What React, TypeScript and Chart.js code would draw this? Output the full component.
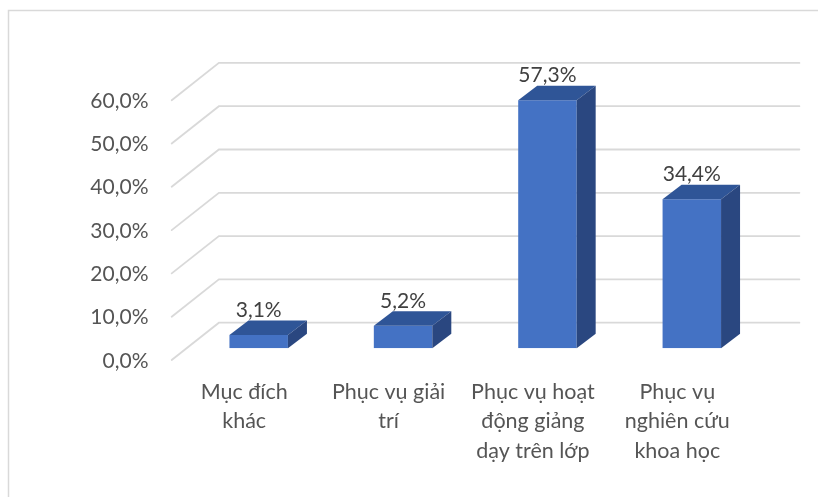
import React, { useEffect, useRef } from "react";
import { Chart, registerables } from "chart.js";

Chart.register(...registerables);

// Purposes of use and their shares (%)
const categories: string[][] = [
  ["Mục đích", "khác"],
  ["Phục vụ giải", "trí"],
  ["Phục vụ hoạt", "động giảng", "dạy trên lớp"],
  ["Phục vụ", "nghiên cứu", "khoa học"],
];
const shares: number[] = [3.1, 5.2, 57.3, 34.4];
const tickValues: number[] = [0, 10, 20, 30, 40, 50, 60];

const fmt = (v: number) => v.toFixed(1).replace(".", ",") + "%";

// Pseudo-3D geometry (offsets relative to the plane of the bars' front faces)
const FRONT = { dx: -14.8, dy: 11.7 };
const BACK = { dx: 32.4, dy: -25.6 };
const DEPTH = { dx: 19, dy: -14.5 };

const FRONT_COLOR = "#4472c4";
const TOP_COLOR = "#2f5597";
const SIDE_COLOR = "#2a4780";
const GRID_COLOR = "#d9d9d9";
const TEXT_COLOR = "#555555";

const box3dPlugin = {
  id: "box3d",
  beforeDraw(chart: any) {
    const { ctx, width, height } = chart;
    ctx.save();
    ctx.fillStyle = "#ffffff";
    ctx.fillRect(0, 0, width, height);
    ctx.strokeStyle = GRID_COLOR;
    ctx.lineWidth = 1.5;
    ctx.beginPath();
    ctx.moveTo(8.5, height);
    ctx.lineTo(8.5, 10.5);
    ctx.lineTo(width, 10.5);
    ctx.stroke();
    ctx.restore();
  },
  beforeDatasetsDraw(chart: any) {
    const { ctx, chartArea, scales } = chart;
    const y = scales.y;
    ctx.save();
    ctx.strokeStyle = GRID_COLOR;
    ctx.lineWidth = 1.8;
    ctx.lineCap = "round";
    for (const v of tickValues) {
      const py = y.getPixelForValue(v);
      ctx.beginPath();
      ctx.moveTo(chartArea.left + FRONT.dx, py + FRONT.dy);
      ctx.lineTo(chartArea.left + BACK.dx, py + BACK.dy);
      ctx.lineTo(chartArea.right + BACK.dx + 3, py + BACK.dy);
      ctx.stroke();
    }
    ctx.restore();
  },
  afterDatasetsDraw(chart: any) {
    const { ctx } = chart;
    const meta = chart.getDatasetMeta(0);
    ctx.save();
    meta.data.forEach((bar: any, i: number) => {
      const { x, y, base, width } = bar.getProps(["x", "y", "base", "width"], true);
      const l = x - width / 2;
      const r = x + width / 2;
      // top face
      ctx.fillStyle = TOP_COLOR;
      ctx.beginPath();
      ctx.moveTo(l, y);
      ctx.lineTo(l + DEPTH.dx, y + DEPTH.dy);
      ctx.lineTo(r + DEPTH.dx, y + DEPTH.dy);
      ctx.lineTo(r, y);
      ctx.closePath();
      ctx.fill();
      // side face
      ctx.fillStyle = SIDE_COLOR;
      ctx.beginPath();
      ctx.moveTo(r, y);
      ctx.lineTo(r + DEPTH.dx, y + DEPTH.dy);
      ctx.lineTo(r + DEPTH.dx, base + DEPTH.dy);
      ctx.lineTo(r, base);
      ctx.closePath();
      ctx.fill();
      // value label
      ctx.fillStyle = "#404040";
      ctx.font = "21px Lato";
      ctx.textAlign = "center";
      ctx.textBaseline = "middle";
      ctx.fillText(fmt(shares[i]), x, y - 25);
    });
    ctx.restore();
  },
};

export default function App() {
  const canvasRef = useRef<HTMLCanvasElement | null>(null);

  useEffect(() => {
    if (!canvasRef.current) return;
    const chart = new Chart(canvasRef.current, {
      type: "bar",
      data: {
        labels: categories,
        datasets: [
          {
            data: shares,
            backgroundColor: FRONT_COLOR,
            borderWidth: 0,
            barPercentage: 0.405,
            categoryPercentage: 1,
          },
        ],
      },
      options: {
        animation: false,
        responsive: false,
        devicePixelRatio: 1,
        layout: { padding: { top: 88.5, right: 54, bottom: 0, left: 0 } },
        plugins: {
          legend: { display: false },
          tooltip: { enabled: false },
        },
        scales: {
          x: {
            grid: { display: false },
            border: { display: false },
            ticks: {
              color: TEXT_COLOR,
              font: { family: "Lato", size: 21.5, lineHeight: 1.37 },
              padding: 21,
              labelOffset: -14.5,
              maxRotation: 0,
              autoSkip: false,
            },
            afterFit: (scale: any) => {
              scale.height = 148.7;
            },
          },
          y: {
            min: 0,
            max: 60,
            grid: { display: false, drawTicks: false },
            border: { display: false },
            ticks: {
              stepSize: 10,
              color: TEXT_COLOR,
              font: { family: "Lato", size: 21 },
              padding: 38,
              labelOffset: 12.5,
              callback: (v: any) => fmt(Number(v)),
            },
            afterFit: (scale: any) => {
              scale.width = 186.5;
            },
          },
        },
      },
      plugins: [box3dPlugin],
    });
    return () => chart.destroy();
  }, []);

  return (
    <div style={{ position: "fixed", left: 0, top: 0, width: 818, height: 497, background: "#fff" }}>
      <canvas ref={canvasRef} width={818} height={497} />
    </div>
  );
}
